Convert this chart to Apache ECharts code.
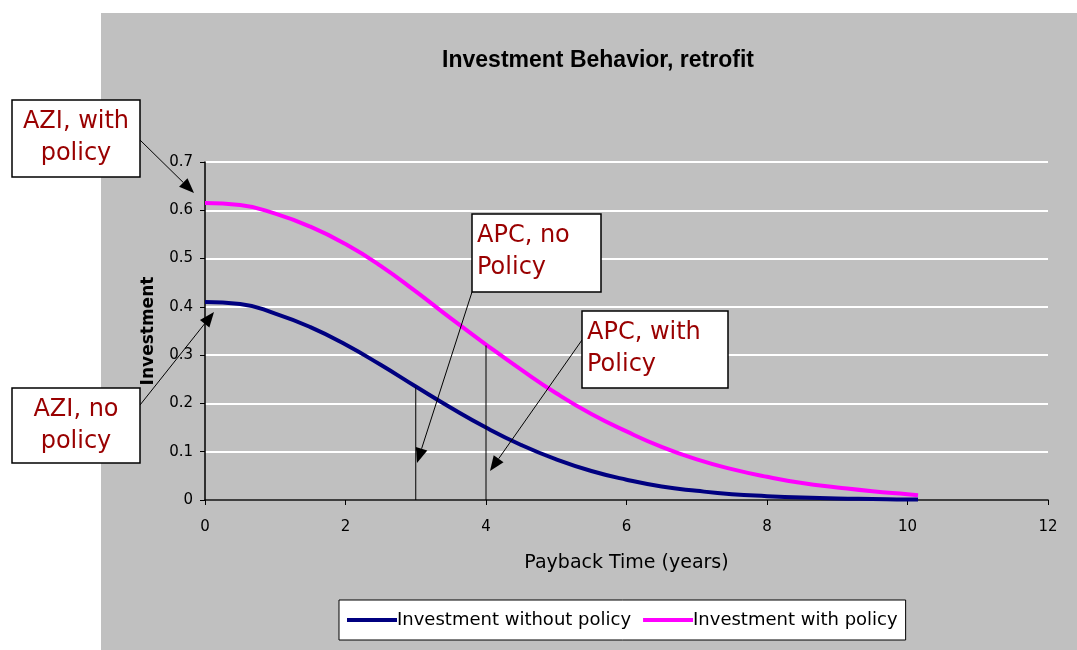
<!DOCTYPE html>
<html>
<head>
<meta charset="utf-8">
<script src="https://cdn.jsdelivr.net/npm/echarts@6/dist/echarts.min.js"></script>
<style>
html,body{margin:0;padding:0;background:#fff;}
#chart{width:1077px;height:650px;}
</style>
</head>
<body>
<div id="chart"></div>
<script>
// ---- data ----
const years = [0,0.5,1,1.5,2,2.5,3,3.5,4,4.5,5,5.5,6,6.5,7,7.5,8,8.5,9,9.5,10,10.15];
const withoutPolicy = [0.410,0.406,0.386,0.358,0.322,0.280,0.235,0.191,0.150,0.114,0.084,0.060,0.042,0.028,0.019,0.012,0.008,0.005,0.003,0.002,0.001,0.001];
const withPolicy = [0.615,0.611,0.593,0.566,0.530,0.485,0.432,0.376,0.322,0.270,0.221,0.178,0.142,0.110,0.084,0.064,0.048,0.035,0.026,0.018,0.012,0.010];
const seriesNames = ["Investment without policy","Investment with policy"];
const apcNoPolicyYear = 3, apcNoPolicyValue = 0.233;
const apcWithPolicyYear = 4, apcWithPolicyValue = 0.320;
const xTicks = [0,2,4,6,8,10,12];
const yTicks = [0,0.1,0.2,0.3,0.4,0.5,0.6,0.7];
const titleText = "Investment Behavior, retrofit";
const xName = "Payback Time (years)";
const yName = "Investment";

const chart = echarts.init(document.getElementById('chart'));

function pairs(xs, ys){ return xs.map((x,i)=>[x, ys[i]]); }

// annotation boxes (pixel layout) and arrows
const notes = [
  {box:[12,100,128,77], lines:["AZI, with","policy"], align:'center', from:[140,140], to:[194,193]},
  {box:[12,388,128,75], lines:["AZI, no","policy"], align:'center', from:[140,405], to:[214,312]},
  {box:[472,214,129,78], lines:["APC, no","Policy"], align:'left', from:[472,292], to:[417,463]},
  {box:[582,311,146,77], lines:["APC, with","Policy"], align:'left', from:[582,340], to:[490,471]}
];
const graphics = [
  {type:'rect', shape:{x:101,y:13,width:976,height:637}, style:{fill:'#c0c0c0'}, z:-10, silent:true}
];
notes.forEach(n=>{
  const [bx,by,bw,bh] = n.box;
  const [x1,y1] = n.from, [x2,y2] = n.to;
  const ang = Math.atan2(y2-y1, x2-x1);
  const L = 15, W = 6;
  const bxp = x2 - L*Math.cos(ang), byp = y2 - L*Math.sin(ang);
  const px = -Math.sin(ang), py = Math.cos(ang);
  graphics.push({type:'line', shape:{x1:x1,y1:y1,x2:bxp,y2:byp}, style:{stroke:'#000',lineWidth:1}, z:50});
  graphics.push({type:'polygon', shape:{points:[[x2,y2],[bxp+px*W,byp+py*W],[bxp-px*W,byp-py*W]]}, style:{fill:'#000'}, z:50});
  graphics.push({type:'rect', shape:{x:bx,y:by,width:bw,height:bh}, style:{fill:'#fff',stroke:'#000',lineWidth:1.5}, z:60});
  n.lines.forEach((t,i)=>{
    graphics.push({type:'text', x: n.align==='center' ? bx+bw/2 : bx+5, y: by+22+i*32, z:61,
      style:{text:t, fill:'#990000', font:'24px "DejaVu Sans"', textAlign:n.align, textVerticalAlign:'middle'}});
  });
});

const option = {
  backgroundColor:'#ffffff',
  animation:false,
  title:{text:titleText, left:593, top:44, textAlign:'center',
    textStyle:{fontFamily:'Liberation Sans', fontWeight:'bold', fontSize:23, color:'#000'}},
  grid:{left:205, right:29, top:162, bottom:150, containLabel:false},
  xAxis:{type:'value', min:0, max:12, interval:2,
    name:xName, nameLocation:'middle', nameGap:54,
    nameTextStyle:{fontFamily:'DejaVu Sans', fontSize:19, color:'#000'},
    axisLine:{show:true, onZero:false, lineStyle:{color:'#000', width:1.5}},
    axisTick:{show:true, inside:false, length:5, lineStyle:{color:'#000'}},
    axisLabel:{margin:20, fontFamily:'DejaVu Sans', fontSize:15, color:'#000',
      formatter:v=> xTicks.includes(v) ? String(v) : ''},
    splitLine:{show:false}},
  yAxis:{type:'value', min:0, max:0.7, interval:0.1,
    name:yName, nameLocation:'middle', nameGap:48, nameRotate:90,
    nameTextStyle:{fontFamily:'DejaVu Sans', fontWeight:'bold', fontSize:17, color:'#000'},
    axisLine:{show:true, lineStyle:{color:'#000', width:1.5}},
    axisTick:{show:true, inside:false, length:5, lineStyle:{color:'#000'}},
    axisLabel:{margin:12, fontFamily:'DejaVu Sans', fontSize:15, color:'#000',
      formatter:v=>{ const t = yTicks.find(k=>Math.abs(k-v)<1e-6); return t===undefined?'':(t===0?'0':t.toFixed(1)); }},
    splitLine:{show:true, lineStyle:{color:'#ffffff', width:2}}},
  legend:{data:seriesNames, left:339, top:600, icon:'rect', itemWidth:50, itemHeight:4, itemGap:12,
    backgroundColor:'#fff', borderColor:'#000', borderWidth:1, padding:[11,8,11,8],
    textStyle:{fontFamily:'DejaVu Sans', fontSize:18, color:'#000', padding:[0,0,0,-5]}},
  series:[
    {name:seriesNames[0], type:'line', data:pairs(years, withoutPolicy), smooth:0.5, showSymbol:false,
      lineStyle:{color:'#000080', width:4}, itemStyle:{color:'#000080'}, z:3},
    {name:seriesNames[1], type:'line', data:pairs(years, withPolicy), smooth:0.5, showSymbol:false,
      lineStyle:{color:'#ff00ff', width:4}, itemStyle:{color:'#ff00ff'}, z:3},
    {name:'apc1', type:'line', data:[[apcNoPolicyYear,0],[apcNoPolicyYear,apcNoPolicyValue]], showSymbol:false,
      lineStyle:{color:'#000', width:1}, silent:true, z:4},
    {name:'apc2', type:'line', data:[[apcWithPolicyYear,0],[apcWithPolicyYear,apcWithPolicyValue]], showSymbol:false,
      lineStyle:{color:'#000', width:1}, silent:true, z:4}
  ],
  graphic:graphics
};
chart.setOption(option);
</script>
</body>
</html>
